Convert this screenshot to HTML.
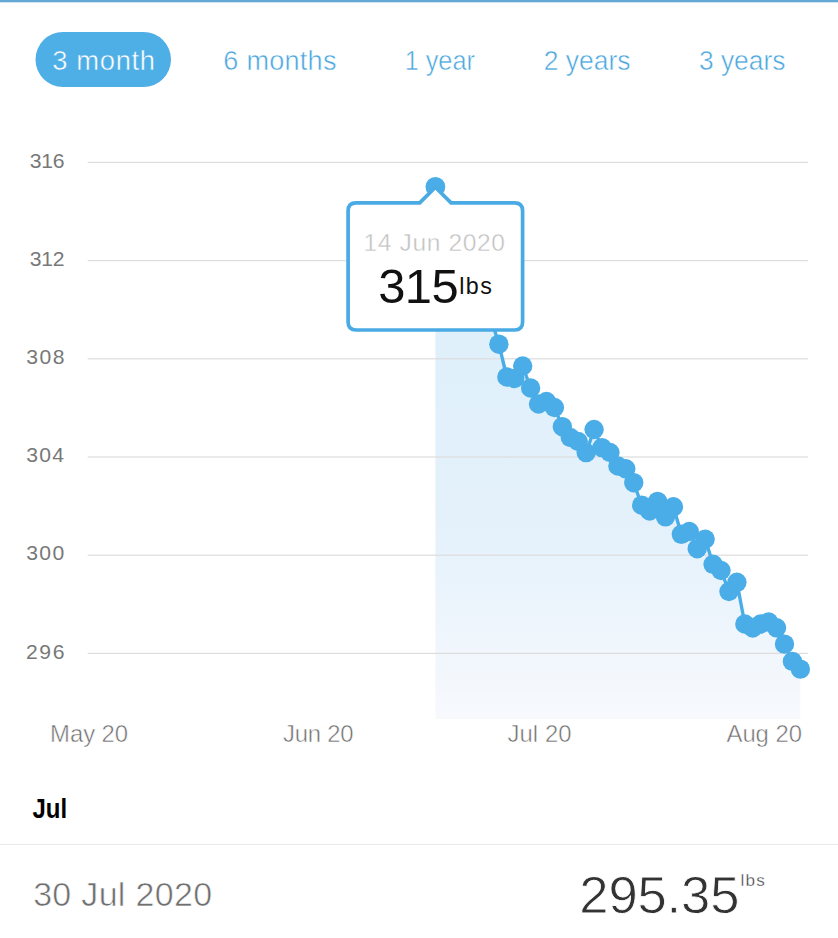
<!DOCTYPE html>
<html><head><meta charset="utf-8"><style>
html,body{margin:0;padding:0;background:#fff;width:838px;height:938px;overflow:hidden}
svg{display:block;font-family:"Liberation Sans",sans-serif}
</style></head><body>
<svg width="838" height="938" viewBox="0 0 838 938">
<defs><linearGradient id="g" x1="0" y1="330" x2="0" y2="719" gradientUnits="userSpaceOnUse">
<stop offset="0" stop-color="#dff0fa"/><stop offset="0.5" stop-color="#e4f1fb"/><stop offset="1" stop-color="#f7f9fd"/></linearGradient></defs>
<rect x="0" y="0" width="838" height="2" fill="#63a7d7"/>
<rect x="0" y="2" width="838" height="1" fill="#cfe3f2"/>

<rect x="35.5" y="32" width="135.5" height="55" rx="27.5" fill="#4eaee6"/>
<text x="52.20" y="70.40" font-size="27.40" font-weight="normal" fill="#fff" style="letter-spacing:0.64px" stroke="#4eaee6" stroke-width="0.5">3 month</text>
<text x="223.34" y="70.20" font-size="27.12" font-weight="normal" fill="#4ca7dd" style="letter-spacing:0.23px" stroke="#fff" stroke-width="0.5">6 months</text>
<text transform="translate(404.68,70.20) scale(0.9219,1)" x="0" y="0" font-size="27.40" font-weight="normal" fill="#4ca7dd" stroke="#fff" stroke-width="0.5">1 year</text>
<text transform="translate(543.68,70.20) scale(0.9656,1)" x="0" y="0" font-size="27.40" font-weight="normal" fill="#4ca7dd" stroke="#fff" stroke-width="0.5">2 years</text>
<text transform="translate(698.95,70.20) scale(0.9626,1)" x="0" y="0" font-size="27.40" font-weight="normal" fill="#4ca7dd" stroke="#fff" stroke-width="0.5">3 years</text>
<polygon points="435.40,719 435.40,186.80 443.33,232.00 451.27,252.00 459.20,270.00 467.14,286.00 475.07,300.00 483.00,310.00 490.94,318.00 498.87,344.20 506.81,377.00 514.74,378.50 522.67,366.00 530.61,388.00 538.54,404.00 546.48,401.50 554.41,407.50 562.34,426.70 570.28,437.50 578.21,441.50 586.15,452.60 594.08,429.50 602.01,447.60 609.95,452.50 617.88,466.00 625.82,468.80 633.75,482.70 641.68,505.20 649.62,511.00 657.55,501.40 665.49,516.80 673.42,506.80 681.35,534.30 689.29,531.50 697.22,548.70 705.16,539.10 713.09,564.30 721.02,570.50 728.96,591.50 736.89,582.30 744.83,624.00 752.76,628.00 760.69,624.00 768.63,622.00 776.56,627.80 784.50,644.10 792.43,661.40 800.36,669.10 800.36,719" fill="url(#g)"/>
<rect x="87.7" y="161.80" width="720.2" height="1.2" fill="#dddddd"/>
<rect x="87.7" y="260.00" width="720.2" height="1.2" fill="#dddddd"/>
<rect x="87.7" y="358.20" width="720.2" height="1.2" fill="#dddddd"/>
<rect x="87.7" y="456.40" width="720.2" height="1.2" fill="#dddddd"/>
<rect x="87.7" y="554.60" width="720.2" height="1.2" fill="#dddddd"/>
<rect x="87.7" y="652.80" width="720.2" height="1.2" fill="#dddddd"/>
<text x="29.65" y="167.60" font-size="21.14" font-weight="normal" fill="#787878" style="letter-spacing:-0.25px">316</text>
<text x="29.65" y="265.80" font-size="21.14" font-weight="normal" fill="#787878" style="letter-spacing:-0.25px">312</text>
<text x="26.15" y="364.00" font-size="21.14" font-weight="normal" fill="#787878" style="letter-spacing:1.50px">308</text>
<text x="26.15" y="462.20" font-size="21.14" font-weight="normal" fill="#787878" style="letter-spacing:1.29px">304</text>
<text x="26.15" y="560.40" font-size="21.14" font-weight="normal" fill="#787878" style="letter-spacing:1.39px">300</text>
<text x="25.94" y="658.60" font-size="21.14" font-weight="normal" fill="#787878" style="letter-spacing:1.60px">296</text>
<polyline points="435.40,186.80 443.33,232.00 451.27,252.00 459.20,270.00 467.14,286.00 475.07,300.00 483.00,310.00 490.94,318.00 498.87,344.20 506.81,377.00 514.74,378.50 522.67,366.00 530.61,388.00 538.54,404.00 546.48,401.50 554.41,407.50 562.34,426.70 570.28,437.50 578.21,441.50 586.15,452.60 594.08,429.50 602.01,447.60 609.95,452.50 617.88,466.00 625.82,468.80 633.75,482.70 641.68,505.20 649.62,511.00 657.55,501.40 665.49,516.80 673.42,506.80 681.35,534.30 689.29,531.50 697.22,548.70 705.16,539.10 713.09,564.30 721.02,570.50 728.96,591.50 736.89,582.30 744.83,624.00 752.76,628.00 760.69,624.00 768.63,622.00 776.56,627.80 784.50,644.10 792.43,661.40 800.36,669.10" fill="none" stroke="#4aade7" stroke-width="3.4" stroke-linejoin="round"/>
<circle cx="443.33" cy="232.00" r="9.7" fill="#4aade7"/>
<circle cx="451.27" cy="252.00" r="9.7" fill="#4aade7"/>
<circle cx="459.20" cy="270.00" r="9.7" fill="#4aade7"/>
<circle cx="467.14" cy="286.00" r="9.7" fill="#4aade7"/>
<circle cx="475.07" cy="300.00" r="9.7" fill="#4aade7"/>
<circle cx="483.00" cy="310.00" r="9.7" fill="#4aade7"/>
<circle cx="490.94" cy="318.00" r="9.7" fill="#4aade7"/>
<circle cx="498.87" cy="344.20" r="9.7" fill="#4aade7"/>
<circle cx="506.81" cy="377.00" r="9.7" fill="#4aade7"/>
<circle cx="514.74" cy="378.50" r="9.7" fill="#4aade7"/>
<circle cx="522.67" cy="366.00" r="9.7" fill="#4aade7"/>
<circle cx="530.61" cy="388.00" r="9.7" fill="#4aade7"/>
<circle cx="538.54" cy="404.00" r="9.7" fill="#4aade7"/>
<circle cx="546.48" cy="401.50" r="9.7" fill="#4aade7"/>
<circle cx="554.41" cy="407.50" r="9.7" fill="#4aade7"/>
<circle cx="562.34" cy="426.70" r="9.7" fill="#4aade7"/>
<circle cx="570.28" cy="437.50" r="9.7" fill="#4aade7"/>
<circle cx="578.21" cy="441.50" r="9.7" fill="#4aade7"/>
<circle cx="586.15" cy="452.60" r="9.7" fill="#4aade7"/>
<circle cx="594.08" cy="429.50" r="9.7" fill="#4aade7"/>
<circle cx="602.01" cy="447.60" r="9.7" fill="#4aade7"/>
<circle cx="609.95" cy="452.50" r="9.7" fill="#4aade7"/>
<circle cx="617.88" cy="466.00" r="9.7" fill="#4aade7"/>
<circle cx="625.82" cy="468.80" r="9.7" fill="#4aade7"/>
<circle cx="633.75" cy="482.70" r="9.7" fill="#4aade7"/>
<circle cx="641.68" cy="505.20" r="9.7" fill="#4aade7"/>
<circle cx="649.62" cy="511.00" r="9.7" fill="#4aade7"/>
<circle cx="657.55" cy="501.40" r="9.7" fill="#4aade7"/>
<circle cx="665.49" cy="516.80" r="9.7" fill="#4aade7"/>
<circle cx="673.42" cy="506.80" r="9.7" fill="#4aade7"/>
<circle cx="681.35" cy="534.30" r="9.7" fill="#4aade7"/>
<circle cx="689.29" cy="531.50" r="9.7" fill="#4aade7"/>
<circle cx="697.22" cy="548.70" r="9.7" fill="#4aade7"/>
<circle cx="705.16" cy="539.10" r="9.7" fill="#4aade7"/>
<circle cx="713.09" cy="564.30" r="9.7" fill="#4aade7"/>
<circle cx="721.02" cy="570.50" r="9.7" fill="#4aade7"/>
<circle cx="728.96" cy="591.50" r="9.7" fill="#4aade7"/>
<circle cx="736.89" cy="582.30" r="9.7" fill="#4aade7"/>
<circle cx="744.83" cy="624.00" r="9.7" fill="#4aade7"/>
<circle cx="752.76" cy="628.00" r="9.7" fill="#4aade7"/>
<circle cx="760.69" cy="624.00" r="9.7" fill="#4aade7"/>
<circle cx="768.63" cy="622.00" r="9.7" fill="#4aade7"/>
<circle cx="776.56" cy="627.80" r="9.7" fill="#4aade7"/>
<circle cx="784.50" cy="644.10" r="9.7" fill="#4aade7"/>
<circle cx="792.43" cy="661.40" r="9.7" fill="#4aade7"/>
<circle cx="800.36" cy="669.10" r="9.7" fill="#4aade7"/>
<circle cx="435.40" cy="186.80" r="9.9" fill="#4aade7"/>
<path d="M356.1,202.9 L419.7,202.9 L435.4,187.2 L451.09999999999997,202.9 L514.6,202.9 Q522.6,202.9 522.6,210.9 L522.6,322.0 Q522.6,330.0 514.6,330.0 L356.1,330.0 Q348.1,330.0 348.1,322.0 L348.1,210.9 Q348.1,202.9 356.1,202.9 Z" fill="#fff" stroke="#4aabe4" stroke-width="3.7" stroke-linejoin="round"/>
<text x="363.53" y="250.80" font-size="24.57" font-weight="normal" fill="#c2c2c2" style="letter-spacing:0.62px" stroke="#fff" stroke-width="0.4">14 Jun 2020</text>
<text x="378.15" y="302.70" font-size="48.86" font-weight="normal" fill="#111" style="letter-spacing:-0.44px">315</text>
<text x="459.17" y="294.10" font-size="23.29" font-weight="normal" fill="#111" style="letter-spacing:1.48px">lbs</text>
<text x="50.09" y="742.40" font-size="23.86" font-weight="normal" fill="#707070" style="letter-spacing:-0.04px" stroke="#fff" stroke-width="0.5">May 20</text>
<text x="282.92" y="742.40" font-size="23.86" font-weight="normal" fill="#707070" style="letter-spacing:-0.19px" stroke="#fff" stroke-width="0.5">Jun 20</text>
<text x="507.52" y="742.40" font-size="23.86" font-weight="normal" fill="#707070" style="letter-spacing:0.07px" stroke="#fff" stroke-width="0.5">Jul 20</text>
<text x="726.50" y="742.40" font-size="23.86" font-weight="normal" fill="#707070" style="letter-spacing:-0.03px" stroke="#fff" stroke-width="0.5">Aug 20</text>
<text transform="translate(32.42,818.20) scale(0.8631,1)" x="0" y="0" font-size="27.81" font-weight="bold" fill="#000">Jul</text>
<rect x="0" y="844" width="838" height="1" fill="#e9e9e9"/>
<text x="33.14" y="906.00" font-size="34.00" font-weight="normal" fill="#6f6f6f" style="letter-spacing:0.31px" stroke="#fff" stroke-width="0.6">30 Jul 2020</text>
<text x="579.37" y="913.10" font-size="52.57" font-weight="normal" fill="#333" style="letter-spacing:-0.15px" stroke="#fff" stroke-width="0.8">295.35</text>
<text x="740.50" y="886.30" font-size="17.12" font-weight="normal" fill="#444" style="letter-spacing:1.23px" stroke="#fff" stroke-width="0.3">lbs</text>
</svg>
</body></html>
